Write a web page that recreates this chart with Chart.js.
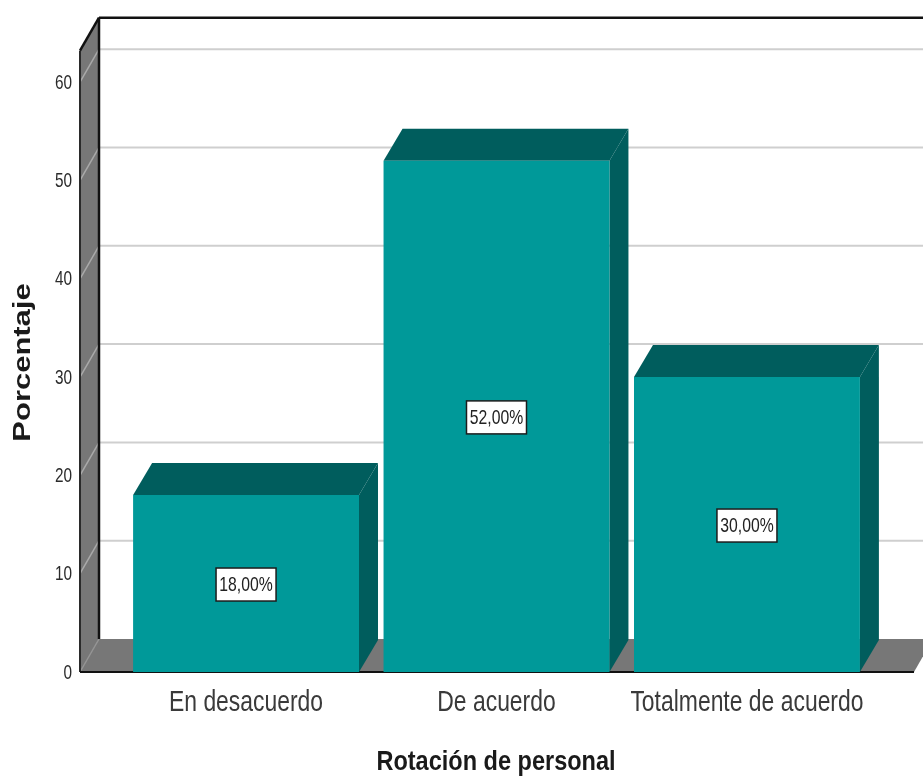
<!DOCTYPE html>
<html>
<head>
<meta charset="utf-8">
<style>
    body { margin: 0; background: #fff; }
    canvas { display: block; }
</style>
<script src="https://cdn.jsdelivr.net/npm/chart.js@4"></script>
</head>
<body>
<canvas id="rotacion" width="923" height="777"></canvas>
<script>
const categories = ['En desacuerdo', 'De acuerdo', 'Totalmente de acuerdo'];
const percentages = [18, 52, 30];
const yTicks = [0, 10, 20, 30, 40, 50, 60];
const xTitle = 'Rotación de personal';
const yTitle = 'Porcentaje';

const sans = '"Liberation Sans", sans-serif';
const depthX = 19;
const depthY = -33;
const barDepthY = -32;
const wallGrey = '#777777';
const barFront = '#009999';
const barShade = '#005d5d';

function polygon(ctx, points, fill) {
    ctx.beginPath();
    points.forEach((p, i) => i ? ctx.lineTo(p[0], p[1]) : ctx.moveTo(p[0], p[1]));
    ctx.closePath();
    ctx.fillStyle = fill;
    ctx.fill();
}

function segment(ctx, x1, y1, x2, y2, color, width) {
    ctx.beginPath();
    ctx.moveTo(x1, y1);
    ctx.lineTo(x2, y2);
    ctx.strokeStyle = color;
    ctx.lineWidth = width;
    ctx.stroke();
}

// text squeezed or widened along its own direction, since no condensed face is available
function stretchedText(ctx, text, x, y, opts) {
    ctx.save();
    ctx.translate(x, y);
    if (opts.rotate) ctx.rotate(opts.rotate);
    ctx.scale(opts.stretch, 1);
    ctx.font = opts.font;
    ctx.fillStyle = opts.color;
    ctx.textAlign = opts.align || 'center';
    ctx.textBaseline = 'alphabetic';
    ctx.fillText(text, 0, 0);
    ctx.restore();
}

// box frame: side wall, floor, gridlines, and the depth faces of the bars
const boxPlugin = {
    id: 'box',
    beforeDatasetsDraw(chart) {
        const ctx = chart.ctx;
        const { left, right, top, bottom } = chart.chartArea;
        const y = chart.scales.y;
        const backLeft = left + depthX;
        const backTop = top + depthY;
        const backBottom = bottom + depthY;

        ctx.save();
        polygon(ctx, [[left, top], [backLeft, backTop], [backLeft, backBottom], [left, bottom]], wallGrey);
        polygon(ctx, [[left, bottom], [backLeft, backBottom], [right + depthX, backBottom], [right, bottom]], wallGrey);

        yTicks.forEach(v => {
            const py = y.getPixelForValue(v);
            segment(ctx, left, py, backLeft, py + depthY, v ? '#a9a9a9' : '#949494', 1.5);
            if (v) segment(ctx, backLeft, py + depthY, chart.width, py + depthY, '#cfcfcf', 2);
        });

        segment(ctx, left, top, left, bottom, '#2a2a2a', 2);
        segment(ctx, left, top, backLeft, backTop, '#111', 2.5);
        segment(ctx, backLeft, backTop, backLeft, backBottom, '#111', 2.5);
        segment(ctx, backLeft, backTop, chart.width, backTop, '#111', 2.5);
        segment(ctx, left, bottom, right, bottom, '#111', 2);

        chart.getDatasetMeta(0).data.forEach(bar => {
            const x0 = bar.x - bar.width / 2;
            const x1 = bar.x + bar.width / 2;
            polygon(ctx, [[x0, bar.y], [x0 + depthX, bar.y + barDepthY], [x1 + depthX, bar.y + barDepthY], [x1, bar.y]], barShade);
            polygon(ctx, [[x1, bar.y], [x1 + depthX, bar.y + barDepthY], [x1 + depthX, bar.base + barDepthY], [x1, bar.base]], barShade);
        });
        ctx.restore();
    },
    afterDatasetsDraw(chart) {
        const ctx = chart.ctx;
        const { x, y } = chart.scales;

        // value boxes
        chart.getDatasetMeta(0).data.forEach((bar, i) => {
            const cy = (bar.y + bar.base) / 2 + 1;
            ctx.save();
            ctx.fillStyle = '#fff';
            ctx.strokeStyle = '#1c1c1c';
            ctx.lineWidth = 1.5;
            ctx.fillRect(bar.x - 30, cy - 16.5, 60, 33);
            ctx.strokeRect(bar.x - 30, cy - 16.5, 60, 33);
            ctx.restore();
            stretchedText(ctx, percentages[i].toFixed(2).replace('.', ',') + '%', bar.x, cy + 6.5,
                { font: '21px ' + sans, stretch: 0.75, color: '#222' });
        });

        // axis labels and titles
        y.ticks.forEach(t => {
            stretchedText(ctx, String(t.value), 72, y.getPixelForValue(t.value) + 6.5,
                { font: '21px ' + sans, stretch: 0.73, color: '#2b2b2b', align: 'right' });
        });
        x.ticks.forEach(t => {
            stretchedText(ctx, categories[t.value], x.getPixelForValue(t.value), 711,
                { font: '29px ' + sans, stretch: 0.79, color: '#3a3a3a' });
        });
        stretchedText(ctx, xTitle, 496, 770,
            { font: 'bold 28px ' + sans, stretch: 0.84, color: '#1a1a1a' });
        stretchedText(ctx, yTitle, 30, 362.5,
            { font: 'bold 24px ' + sans, stretch: 1.29, color: '#1a1a1a', rotate: -Math.PI / 2 });
    }
};

new Chart(document.getElementById('rotacion').getContext('2d'), {
    type: 'bar',
    data: {
        datasets: [{
            data: percentages.map((v, i) => ({ x: i, y: v })),
            backgroundColor: barFront,
            borderWidth: 0,
            barPercentage: 1,
            categoryPercentage: 0.902
        }]
    },
    options: {
        responsive: false,
        animation: false,
        layout: { padding: { top: 50.7, right: 9 } },
        plugins: { legend: { display: false }, tooltip: { enabled: false } },
        scales: {
            x: {
                type: 'linear',
                offset: false,
                min: -0.663,
                max: 2.667,
                grid: { display: false },
                border: { display: false },
                ticks: { display: false },
                afterBuildTicks: scale => { scale.ticks = categories.map((c, i) => ({ value: i })); },
                afterFit: scale => { scale.height = 105; }
            },
            y: {
                min: 0,
                max: 63.2,
                grid: { display: false },
                border: { display: false },
                ticks: { display: false },
                afterBuildTicks: scale => { scale.ticks = yTicks.map(v => ({ value: v })); },
                afterFit: scale => { scale.width = 80; }
            }
        }
    },
    plugins: [boxPlugin]
});
</script>
</body>
</html>
